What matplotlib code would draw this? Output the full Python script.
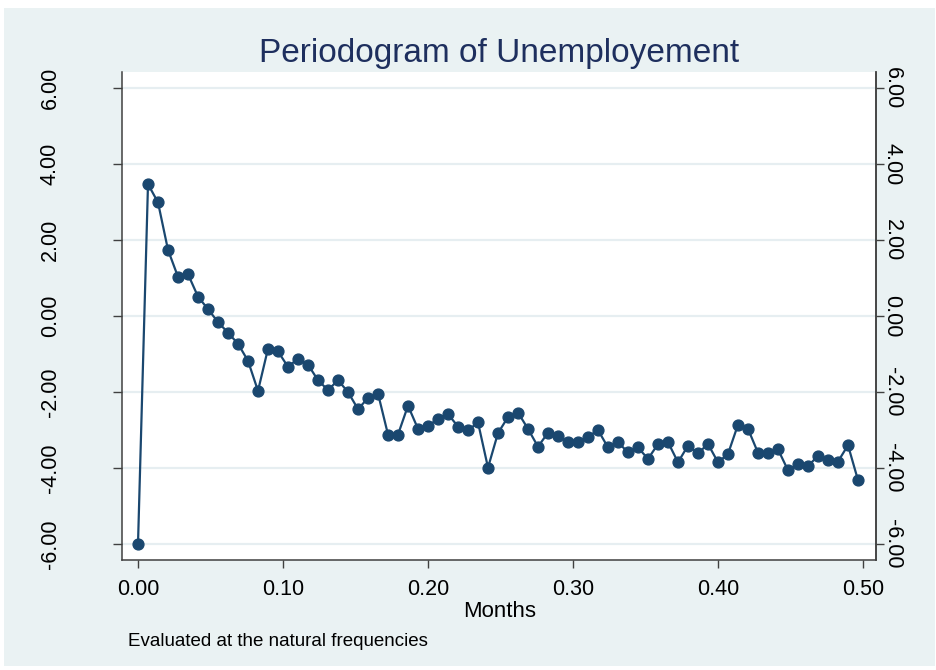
import numpy as np
import matplotlib
matplotlib.use("Agg")
import matplotlib.pyplot as plt
from matplotlib.patches import Rectangle

# Log periodogram of unemployment, evaluated at the natural frequencies k/N
n_obs = 145
log_pgram = [
    -6.00, 3.47, 2.99, 1.74, 1.03, 1.10, 0.51, 0.18, -0.16, -0.44,
    -0.73, -1.18, -1.97, -0.86, -0.93, -1.34, -1.12, -1.28, -1.69, -1.95,
    -1.69, -2.00, -2.45, -2.16, -2.04, -3.12, -3.12, -2.36, -2.97, -2.90,
    -2.70, -2.58, -2.91, -3.01, -2.80, -3.99, -3.08, -2.66, -2.54, -2.97,
    -3.44, -3.07, -3.16, -3.31, -3.32, -3.18, -3.00, -3.46, -3.32, -3.59,
    -3.46, -3.76, -3.37, -3.32, -3.85, -3.41, -3.61, -3.37, -3.85, -3.63,
    -2.86, -2.97, -3.60, -3.61, -3.51, -4.06, -3.90, -3.95, -3.68, -3.80,
    -3.83, -3.40, -4.32,
]
freq = np.arange(len(log_pgram)) / n_obs

y_ticks = [-6, -4, -2, 0, 2, 4, 6]
x_ticks = [0.0, 0.1, 0.2, 0.3, 0.4, 0.5]

title_text = "Periodogram of Unemployement"
x_title = "Months"
note_text = "Evaluated at the natural frequencies"

W, H = 937, 670
plt.rcParams["font.family"] = ["Liberation Sans", "DejaVu Sans"]

fig = plt.figure(figsize=(W / 100, H / 100), dpi=100)
fig.patch.set_facecolor("white")
fig.patches.append(Rectangle((4 / W, 1 - 666 / H), (935 - 4) / W, (666 - 8) / H,
                             transform=fig.transFigure, facecolor="#EAF2F3",
                             edgecolor="none", zorder=-5))

L, R, T, B = 122.5, 876, 72, 560
ax = fig.add_axes([L / W, 1 - B / H, (R - L) / W, (B - T) / H])
ax.set_facecolor("white")

navy = "#1A476F"
axis_col = "#404040"

ax.plot(freq, log_pgram, color=navy, lw=1.6, marker="o", ms=7.8,
        mfc=navy, mec=navy, zorder=3, clip_on=False)

ax.set_xlim((L - 138) / 1450, (R - 138) / 1450)
ax.set_ylim(-(B - 316) / 38, (316 - T) / 38)

ax.set_yticks(y_ticks)
ax.set_yticklabels([f"{v:.2f}" for v in y_ticks], rotation=90, va="center")
ax.set_xticks(x_ticks)
ax.set_xticklabels([f"{v:.2f}" for v in x_ticks])
ax.grid(axis="y", color="#E6EEF1", lw=1.6, zorder=0)
ax.set_axisbelow(True)

ax.spines["top"].set_visible(False)
for s in ["left", "right", "bottom"]:
    ax.spines[s].set_color(axis_col)
    ax.spines[s].set_linewidth(1.1)

ax.tick_params(axis="y", direction="out", length=6.5, width=1.0, color=axis_col,
               labelsize=15.5, pad=38)
ax.tick_params(axis="x", direction="out", length=6, width=1.0, color=axis_col,
               labelsize=15.5, pad=8)

ax2 = ax.twinx()
ax2.set_ylim(ax.get_ylim())
ax2.set_yticks(y_ticks)
ax2.set_yticklabels([f"{v:.2f}" for v in y_ticks], rotation=270, va="center")
ax2.tick_params(axis="y", direction="out", length=6, width=1.0, color=axis_col,
                labelsize=15.5, pad=-2)
for s in ["top", "left", "bottom"]:
    ax2.spines[s].set_visible(False)
ax2.spines["right"].set_color(axis_col)
ax2.spines["right"].set_linewidth(1.1)

fig.text((L + R) / 2 / W, 1 - 62 / H, title_text, ha="center", va="baseline",
         fontsize=24, color="#1E2F5E")
fig.text(500 / W, 1 - 617 / H, x_title, ha="center", va="baseline",
         fontsize=16, color="black")
fig.text(128 / W, 1 - 646 / H, note_text, ha="left", va="baseline",
         fontsize=13.5, color="black")

fig.savefig("out.png", dpi=100, facecolor=fig.get_facecolor())
